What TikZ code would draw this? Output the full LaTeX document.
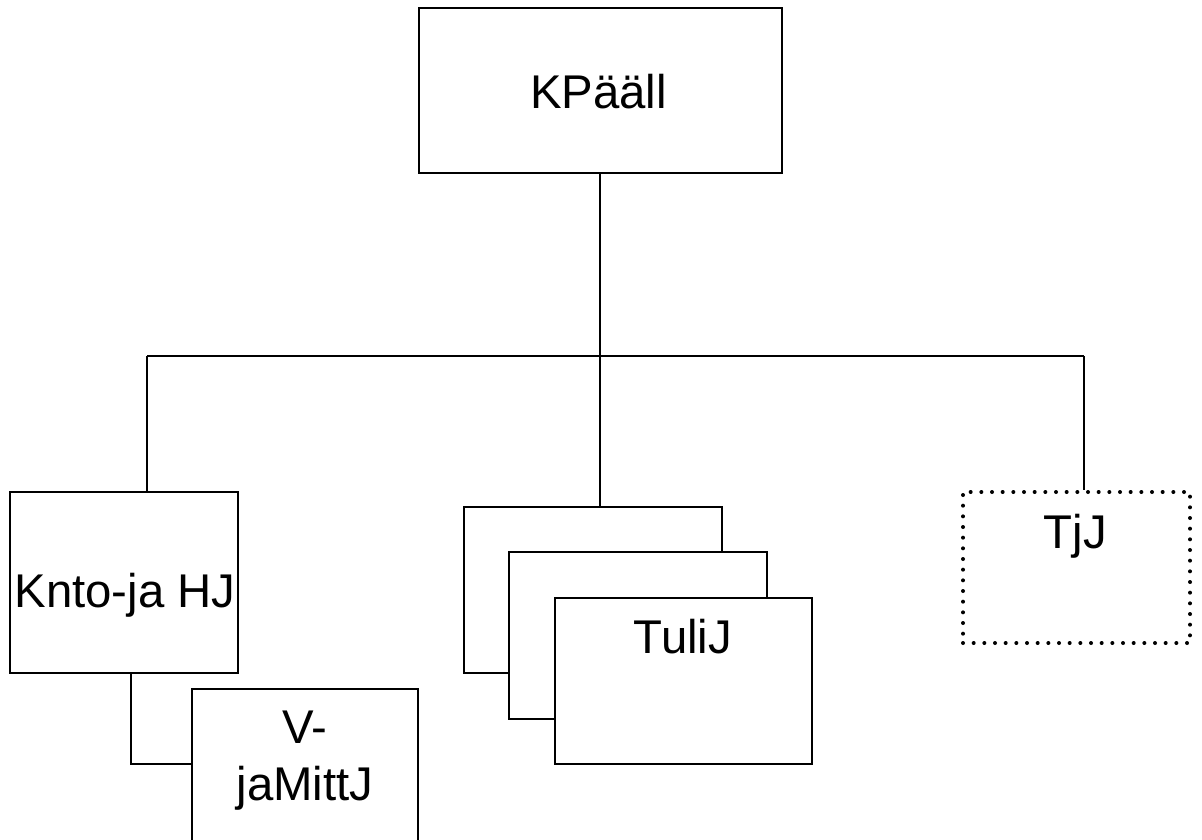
\documentclass[tikz,border=0pt]{standalone}
\usepackage{fontspec}
\setmainfont{Liberation Sans}
\begin{document}
\begin{tikzpicture}[x=0.75pt,y=-0.75pt,
  box/.style={draw=black,fill=white,line width=1.5pt,rectangle,inner sep=0pt},
  dotbox/.style={draw=black,line width=3pt,line cap=round,dash pattern=on 0pt off 8pt,rectangle,inner sep=0pt},
  lbl/.style={font=\fontsize{35.5}{42}\selectfont,anchor=base,inner sep=0pt},
  conn/.style={line width=1.5pt}]
\useasboundingbox (0,0) rectangle (1202,839);
\clip (0,0) rectangle (1202,839);
% boxes
\node[box,minimum width=363*0.75pt,minimum height=165*0.75pt] (kp) at (600.5,90.5) {};
\node[box,minimum width=228*0.75pt,minimum height=181*0.75pt] (kn) at (124,582.5) {};
\node[box,minimum width=226*0.75pt,minimum height=180*0.75pt] (vm) at (305,779) {};
\node[box,minimum width=258*0.75pt,minimum height=166*0.75pt] (t1) at (593,590) {};
\node[box,minimum width=258*0.75pt,minimum height=167*0.75pt] (t2) at (638,635.5) {};
\node[box,minimum width=257*0.75pt,minimum height=166*0.75pt] (t3) at (683.5,681) {};
\node[dotbox,minimum width=227*0.75pt,minimum height=151*0.75pt] (tj) at (1076.5,567.5) {};
% texts
\node[lbl] (kpt) at (598.5,108) {KPääll};
\node[lbl] (knt) at (125,607) {Knto-ja HJ};
\node[lbl] (vmt1) at (305,743) {V-};
\node[lbl] (vmt2) at (305,800) {jaMittJ};
\node[lbl] (t3t) at (683,653) {TuliJ};
\node[lbl] (tjt) at (1075.5,548) {TjJ};
% connectors
\coordinate (hub) at (600,356);
\coordinate (hl) at (147,356);
\coordinate (hr) at (1084,356);
\coordinate (kb) at (131,673);
\draw[conn] (hub |- kp.south) -- (hub);
\draw[conn] (hl) -- (hr);
\draw[conn] (hl) -- (hl |- kn.north);
\draw[conn] (hub) -- (hub |- t1.north);
\draw[conn] (hr) -- (hr |- tj.north);
\draw[conn] (kb) |- (vm.west |- 0,764);
\end{tikzpicture}
\end{document}
